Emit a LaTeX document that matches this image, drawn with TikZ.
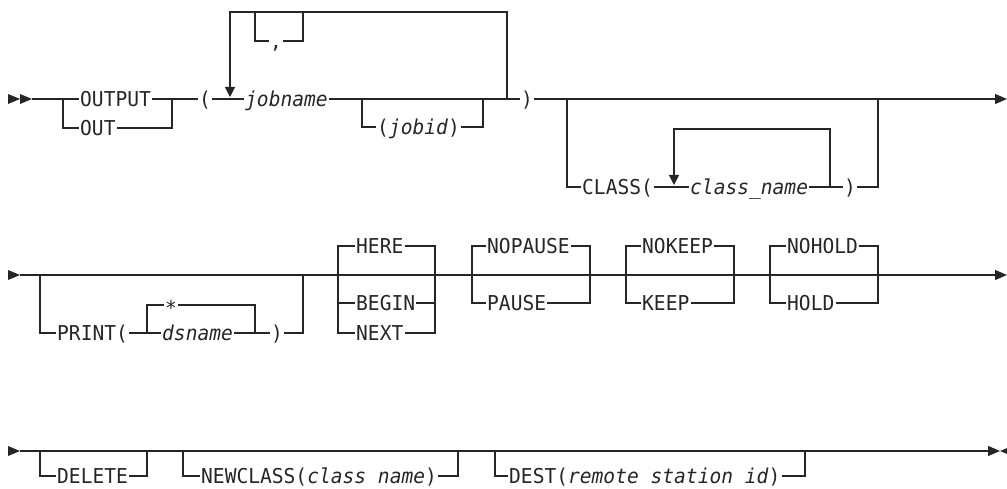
\documentclass[tikz,border=0pt]{standalone}
\usepackage{fontspec}
\newfontfamily\rrfont{DejaVu Sans Mono}[FakeStretch=0.955]
\usepackage{tikz}
\usetikzlibrary{arrows.meta}
\tikzset{
    kwnode/.style={font=\rrfont\fontsize{20.5}{23}\selectfont, text=black!85, anchor=west, inner xsep=1pt, inner ysep=0pt, text height=14.9pt, text depth=0pt},
    varnode/.style={kwnode, font=\rrfont\fontsize{20.5}{23}\selectfont\itshape},
    tip/.style={fill=black!85}
}

\begin{document}
\begin{tikzpicture}[x=1pt, y=-1pt,
    rail/.style={line width=1.2pt, draw=black!85},
    endarrow/.style={rail, -{Triangle[length=12pt, width=10pt]}},
    looparrow/.style={rail, -{Triangle[length=10pt, width=10pt]}}]

    \useasboundingbox (0,0) rectangle (1007,489);

    % first line
    \node (output)    [kwnode]  at (79,99)  {OUTPUT};
    \node (out)       [kwnode]  at (79,128) {OUT};
    \node (lpar)      [kwnode]  at (198,99) {(};
    \node (jobname)   [varnode] at (244,99) {jobname};
    \node (comma)     [kwnode]  at (269,41) {,};
    \node (jobid)     [kwnode]  at (376,127) {(\textit{jobid})};
    \node (rpar)      [kwnode]  at (520,99) {)};
    \node (class)     [kwnode]  at (581,187) {CLASS(};
    \node (classname) [varnode] at (689,187) {class\_name};
    \node (classrpar) [kwnode]  at (843,187) {)};

    \coordinate (start1) at (32,99);
    \coordinate (end1)   at (1007,99);

    \fill[tip] (8,94) -- (20,99) -- (8,104) -- cycle;
    \fill[tip] (20,94) -- (32,99) -- (20,104) -- cycle;
    \draw[rail] (start1) -- (output.west);
    \draw[rail] (output.east) -- (lpar.west);
    \draw[rail] (63,99) |- (out.west);
    \draw[rail] (out.east) -| (172,99);
    \draw[rail] (lpar.east) -- (jobname.west);
    \draw[rail] (jobname.east) -- (rpar.west);
    \draw[rail] (362,99) |- (jobid.west);
    \draw[rail] (jobid.east) -| (483,99);
    \draw[looparrow] (507,99) |- (230,12) -- (230,97);
    \draw[rail] (255,12) |- (comma.west);
    \draw[rail] (comma.east) -| (303,12);
    \draw[endarrow] (rpar.east) -- (end1);
    \draw[rail] (567,99) |- (class.west);
    \draw[rail] (class.east) -- (classname.west);
    \draw[rail] (classname.east) -- (classrpar.west);
    \draw[rail] (classrpar.east) -| (878,99);
    \draw[looparrow] (830,187) |- (674,129) -- (674,185);

    % second line
    \node (print)   [kwnode]  at (56,333)  {PRINT(};
    \node (star)    [kwnode, text height=20.2pt] at (164,305) {*};
    \node (dsname)  [varnode] at (161,333) {dsname};
    \node (dsrpar)  [kwnode]  at (270,333) {)};
    \node (here)    [kwnode]  at (355,246) {HERE};
    \node (begin)   [kwnode]  at (355,303) {BEGIN};
    \node (next)    [kwnode]  at (355,333) {NEXT};
    \node (nopause) [kwnode]  at (486,246) {NOPAUSE};
    \node (pause)   [kwnode]  at (486,303) {PAUSE};
    \node (nokeep)  [kwnode]  at (641,246) {NOKEEP};
    \node (keep)    [kwnode]  at (641,303) {KEEP};
    \node (nohold)  [kwnode]  at (786,246) {NOHOLD};
    \node (hold)    [kwnode]  at (786,303) {HOLD};

    \coordinate (start2) at (20,275);
    \coordinate (end2)   at (1007,275);

    \fill[tip] (8,270) -- (20,275) -- (8,280) -- cycle;
    \draw[endarrow] (start2) -- (end2);
    \draw[rail] (40,275) |- (print.west);
    \draw[rail] (print.east) -- (dsname.west);
    \draw[rail] (147,333) |- (star.west);
    \draw[rail] (star.east) -| (255,333);
    \draw[rail] (dsname.east) -- (dsrpar.west);
    \draw[rail] (dsrpar.east) -| (303,275);
    \draw[rail] (here.west) -| (338,333) -- (next.west);
    \draw[rail] (338,303) -- (begin.west);
    \draw[rail] (here.east) -| (435,333) -- (next.east);
    \draw[rail] (begin.east) -- (435,303);
    \draw[rail] (nopause.west) -| (472,303) -- (pause.west);
    \draw[rail] (nopause.east) -| (590,303) -- (pause.east);
    \draw[rail] (nokeep.west) -| (626,303) -- (keep.west);
    \draw[rail] (nokeep.east) -| (734,303) -- (keep.east);
    \draw[rail] (nohold.west) -| (770,303) -- (hold.west);
    \draw[rail] (nohold.east) -| (878,303) -- (hold.east);

    % third line
    \node (delete)   [kwnode] at (56,476)  {DELETE};
    \node (newclass) [kwnode] at (200,476) {NEWCLASS(\textit{class name})};
    \node (dest)     [kwnode] at (508,476) {DEST(\textit{remote station id})};

    \coordinate (start3) at (20,451);
    \coordinate (end3)   at (1000,451);

    \fill[tip] (8,446) -- (20,451) -- (8,456) -- cycle;
    \draw[endarrow] (start3) -- (end3);
    \fill[tip] (1012,446) -- (1000,451) -- (1012,456) -- cycle;
    \draw[line width=2.2pt, draw=black!85] (812,451) -- (835,451);
    \draw[rail] (40,451) |- (delete.west);
    \draw[rail] (delete.east) -| (147,451);
    \draw[rail] (183,451) |- (newclass.west);
    \draw[rail] (newclass.east) -| (458,451);
    \draw[rail] (495,451) |- (dest.west);
    \draw[rail] (dest.east) -| (805,451);
\end{tikzpicture}
\end{document}
